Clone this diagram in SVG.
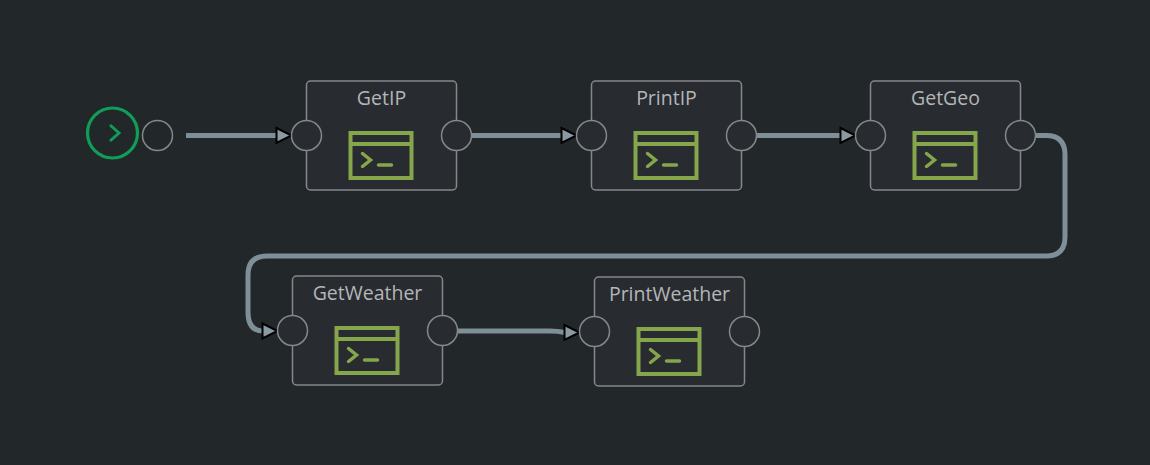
<svg xmlns="http://www.w3.org/2000/svg" width="1150" height="465" viewBox="0 0 1150 465">
<style>
.box{fill:#282b30;stroke:#85878a;stroke-width:1.5}
.port{fill:#282b30;stroke:#85878a;stroke-width:1.5}
.lbl{font-family:"Open Sans","Noto Sans","Liberation Sans",sans-serif;font-size:19.5px;fill:#b4b6b8;text-anchor:middle}
.ico{fill:none;stroke:#86a64c;stroke-width:4}
.ico2{fill:none;stroke:#86a64c;stroke-width:3.5;stroke-linecap:round;stroke-linejoin:miter}
.edge{fill:none;stroke:#7f8f98;stroke-width:5}
.head{fill:#8a9aa3;stroke:#000;stroke-width:2}
</style>
<defs>
<g id="icon">
<rect class="ico" x="44" y="52" width="61" height="45"/>
<path class="ico" d="M44 63H105"/>
<path class="ico2" d="M56 72.500L64 79 56 85.500"/>
<path class="ico2" d="M72 84H85"/>
</g>
<path id="arrow" class="head" d="M-15 -7.500L0 0 -15 7.500Z"/>
</defs>
<rect width="1150" height="465" fill="#22272a"/>
<g id="connectors">
<path class="edge" d="M186 135.500H277"/>
<path class="edge" d="M471 135.500H562"/>
<path class="edge" d="M756 135.500H841"/>
<path class="edge" d="M1035 135.500H1046Q1065 135.500 1065 154.500V237Q1065 256 1046 256H267Q248 256 248 275V312Q248 331 263 331"/>
<path class="edge" d="M457 331H550Q558 331 565 332.500"/>
<use href="#arrow" x="291.500" y="135.500"/>
<use href="#arrow" x="576.500" y="135.500"/>
<use href="#arrow" x="855.500" y="135.500"/>
<use href="#arrow" x="277.500" y="331"/>
<use href="#arrow" x="579.500" y="332.500"/>
</g>
<g id="start">
<circle cx="112.500" cy="133" r="25" fill="none" stroke="#0f9d58" stroke-width="3.200"/>
<path d="M110 125L119 133 110 141" fill="none" stroke="#0f9d58" stroke-width="3"/>
<circle class="port" cx="157.500" cy="135.500" r="15" style="fill:#22272a"/>
</g>
<g id="GetIP" transform="translate(306.500 81)">
<rect class="box" width="150" height="109" rx="4"/>
<text class="lbl" x="75" y="24">GetIP</text>
<use href="#icon"/>
<circle class="port" cy="54.500" r="15"/><circle class="port" cx="150" cy="54.500" r="15"/>
</g>
<g id="PrintIP" transform="translate(591.500 81)">
<rect class="box" width="150" height="109" rx="4"/>
<text class="lbl" x="75" y="24">PrintIP</text>
<use href="#icon"/>
<circle class="port" cy="54.500" r="15"/><circle class="port" cx="150" cy="54.500" r="15"/>
</g>
<g id="GetGeo" transform="translate(870.500 81)">
<rect class="box" width="150" height="109" rx="4"/>
<text class="lbl" x="75" y="24">GetGeo</text>
<use href="#icon"/>
<circle class="port" cy="54.500" r="15"/><circle class="port" cx="150" cy="54.500" r="15"/>
</g>
<g id="GetWeather" transform="translate(292.500 276)">
<rect class="box" width="150" height="109" rx="4"/>
<text class="lbl" x="75" y="24">GetWeather</text>
<use href="#icon"/>
<circle class="port" cy="54.500" r="15"/><circle class="port" cx="150" cy="54.500" r="15"/>
</g>
<g id="PrintWeather" transform="translate(594.500 277)">
<rect class="box" width="150" height="109" rx="4"/>
<text class="lbl" x="75" y="24">PrintWeather</text>
<use href="#icon"/>
<circle class="port" cy="54.500" r="15"/><circle class="port" cx="150" cy="54.500" r="15"/>
</g>
</svg>
